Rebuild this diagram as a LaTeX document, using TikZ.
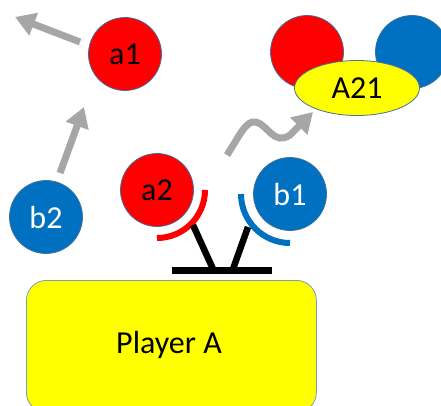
\documentclass[tikz,border=0pt]{standalone}
\usepackage{fontspec}
\setmainfont{Carlito}
\usetikzlibrary{arrows.meta,shapes.geometric}
\definecolor{cred}{HTML}{FF0000}
\definecolor{cblue}{HTML}{0070C0}
\definecolor{cyel}{HTML}{FFFF00}
\definecolor{cgray}{HTML}{A6A6A6}
\definecolor{cedge}{HTML}{41719C}
\tikzset{
  ball/.style={circle, minimum size=73pt, inner sep=0pt, draw=cedge, line width=0.8pt, font=\fontsize{32}{38}\selectfont},
  redball/.style={ball, fill=cred, text=black},
  blueball/.style={ball, fill=cblue, text=white},
  grayarrow/.style={draw=cgray, line width=7pt, -{Triangle[length=20pt,width=23pt]}, color=cgray},
  armline/.style={line width=6.5pt, black},
  lbl/.style={font=\fontsize{32}{38}\selectfont}
}
\begin{document}
\begin{tikzpicture}[x=1pt,y=-1pt]
\useasboundingbox (0,0) rectangle (441,405);
% top right complex
\node[redball] (ared) at (307,52) {};
\node[blueball] (bblue) at (412,52) {};
\node[ellipse, draw=cedge, line width=0.8pt, fill=cyel, minimum width=125pt, minimum height=55pt, inner sep=0pt, lbl] (A21) at (357,88) {A21};
% balls
\node[redball] (a1) at (125,54) {a1};
\node[blueball] (b2) at (46,217) {b2};
\node[redball] (a2) at (157,190) {a2};
\node[blueball] (b1) at (290,194) {b1};
% arrows
\coordinate (a1s) at (80,42);
\coordinate (a1t) at (15,17);
\draw[grayarrow] (a1s) -- (a1t);
\coordinate (b2s) at (60,173);
\coordinate (b2t) at (84,107);
\draw[grayarrow] (b2s) -- (b2t);
\coordinate (ws) at (227,155);
\coordinate (wt) at (313,112);
\draw[grayarrow] (ws) .. controls (240,135) and (246,120) .. (256,122) .. controls (268,125) and (274,146) .. (290,135) -- (wt);
% receptor arcs
\draw[cred, line width=6pt] (a2) ++(0:48) arc[start angle=0, end angle=90, radius=48];
\draw[cblue, line width=6pt] (b1) ++(180:49) arc[start angle=180, end angle=90, radius=49];
% Y shape
\coordinate (yl) at (193,225);
\coordinate (yr) at (248,227);
\coordinate (bl) at (213,269);
\coordinate (br) at (233,269);
\draw[armline] (yl) -- (bl);
\draw[armline] (yr) -- (br);
\coordinate (barL) at (172,270);
\coordinate (barR) at (272,270);
\draw[line width=7pt, black] (barL) -- (barR);
% Player A
\node[draw=cedge!70, line width=0.8pt, fill=cyel, rounded corners=20pt, minimum width=290pt, minimum height=132pt, inner sep=0pt, anchor=north west, lbl] (playerA) at (26,280) {};
\node[lbl, text=black] (playerAtext) at (169,345) {Player A};
\end{tikzpicture}
\end{document}
